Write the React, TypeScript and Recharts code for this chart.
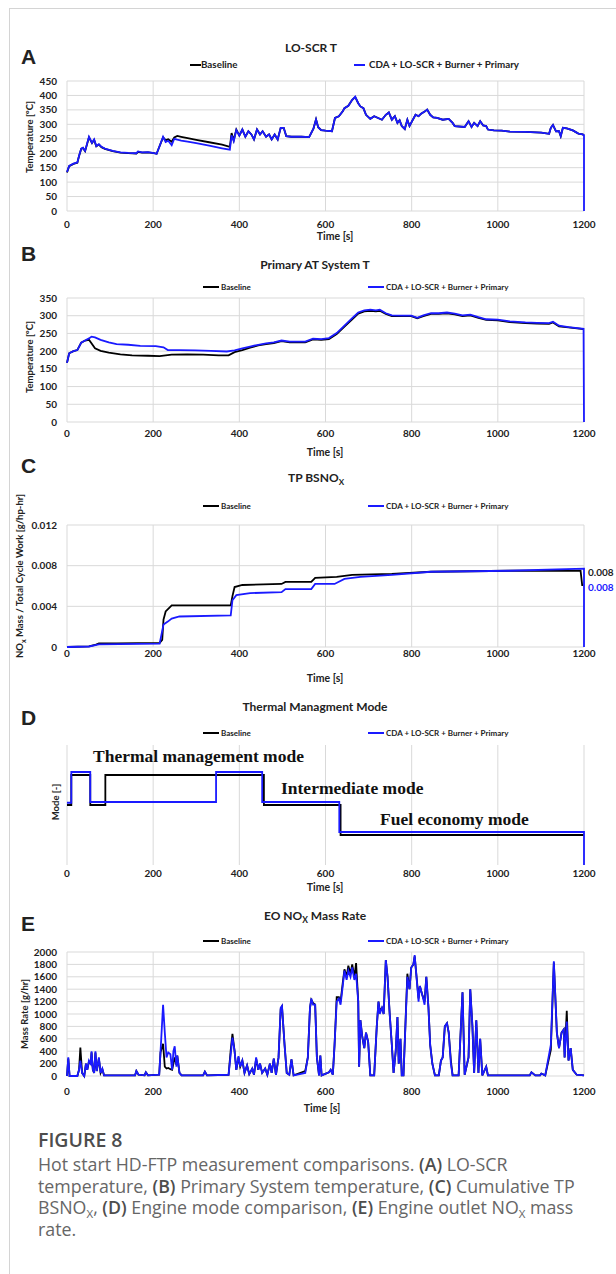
import { CartesianGrid, Line, LineChart, XAxis, YAxis } from 'recharts'
import type { ReactNode } from 'react'

type Pt = [number, number]

const seriesNames = ['Baseline', 'CDA + LO-SCR + Burner + Primary']
const timeTicks = [0, 200, 400, 600, 800, 1000, 1200]
const aTicks = [0, 50, 100, 150, 200, 250, 300, 350, 400, 450]
const bTicks = [0, 50, 100, 150, 200, 250, 300, 350]
const cTicks = [0, 0.004, 0.008, 0.012]
const dTicks = [0, 1, 2, 3, 4, 5, 6, 7, 8]
const eTicks = [0, 200, 400, 600, 800, 1000, 1200, 1400, 1600, 1800, 2000]

// (A) LO-SCR temperature [°C]
const aBaseline: Pt[] = [
	[0, 133], [5, 155], [15, 163], [24, 167], [28, 190], [33, 215], [37, 218], [42, 207], [51, 255], [58, 235],
	[63, 246], [68, 224], [74, 230], [80, 221], [88, 215], [106, 207], [124, 202], [142, 200], [161, 199], [165, 205],
	[174, 202], [188, 203], [202, 200], [208, 198], [215, 225], [223, 255], [229, 245], [235, 248], [243, 240], [249, 255],
	[256, 260], [265, 257], [280, 252], [300, 246], [330, 238], [360, 230], [378, 222], [382, 270], [387, 245], [393, 282],
	[400, 261], [407, 282], [414, 257], [421, 276], [428, 265], [434, 248], [441, 282], [448, 265], [454, 276], [462, 257],
	[469, 265], [475, 248], [482, 265], [489, 248], [496, 288], [503, 288], [509, 259], [521, 257], [544, 257], [562, 256],
	[572, 285], [578, 317], [583, 290], [590, 280], [600, 278], [615, 276], [622, 322], [631, 328], [640, 345], [644, 356],
	[653, 364], [662, 385], [669, 394], [676, 373], [681, 362], [688, 356], [694, 333], [704, 319], [713, 328], [722, 322],
	[731, 316], [740, 333], [747, 341], [754, 316], [761, 328], [767, 305], [772, 314], [777, 294], [784, 284], [790, 316],
	[795, 294], [801, 311], [809, 333], [816, 328], [822, 337], [831, 345], [836, 351], [843, 333], [850, 324], [859, 322],
	[872, 316], [886, 319], [895, 305], [900, 294], [923, 291], [932, 311], [939, 291], [945, 305], [953, 294], [959, 311],
	[966, 296], [973, 294], [977, 282], [991, 279], [1009, 278], [1028, 275], [1064, 274], [1101, 271], [1119, 267], [1123, 288],
	[1128, 298], [1135, 276], [1142, 276], [1146, 259], [1151, 288], [1160, 286], [1174, 279], [1187, 268], [1197, 265], [1200, 262],
]
const aCda: Pt[] = [
	[0, 135], [5, 156], [15, 164], [24, 168], [28, 191], [33, 216], [37, 219], [42, 208], [51, 257], [58, 236],
	[63, 248], [68, 225], [74, 231], [80, 222], [88, 216], [106, 208], [124, 203], [142, 201], [161, 200], [165, 206],
	[174, 203], [188, 204], [202, 200], [208, 198], [215, 225], [223, 257], [229, 239], [235, 243], [243, 228], [249, 250],
	[256, 247], [265, 244], [280, 240], [300, 235], [330, 226], [360, 217], [378, 212], [382, 262], [387, 242], [393, 280],
	[400, 261], [407, 282], [414, 257], [421, 276], [428, 265], [434, 248], [441, 282], [448, 265], [454, 276], [462, 257],
	[469, 265], [475, 248], [482, 265], [489, 248], [496, 288], [503, 288], [509, 259], [521, 257], [544, 257], [562, 256],
	[572, 285], [578, 317], [583, 290], [590, 280], [600, 278], [615, 276], [622, 322], [631, 328], [640, 345], [644, 356],
	[653, 364], [662, 385], [669, 396], [676, 373], [681, 362], [688, 356], [694, 333], [704, 319], [713, 328], [722, 322],
	[731, 316], [740, 333], [747, 341], [754, 316], [761, 328], [767, 305], [772, 314], [777, 294], [784, 284], [790, 316],
	[795, 294], [801, 311], [809, 333], [816, 328], [822, 337], [831, 345], [836, 351], [843, 333], [850, 324], [859, 322],
	[872, 316], [886, 319], [895, 305], [900, 294], [923, 291], [932, 311], [939, 291], [945, 305], [953, 294], [959, 311],
	[966, 296], [973, 294], [977, 282], [991, 279], [1009, 278], [1028, 275], [1064, 274], [1101, 271], [1119, 267], [1123, 288],
	[1128, 298], [1135, 276], [1142, 276], [1146, 259], [1151, 288], [1160, 286], [1174, 279], [1187, 268], [1197, 265], [1200, 262],
	[1200, 0],
]

// (B) Primary AT system temperature [°C]
const bBaseline: Pt[] = [
	[0, 167], [5, 194], [15, 200], [24, 203], [33, 224], [42, 230], [51, 232], [65, 208], [78, 201], [97, 196],
	[124, 191], [151, 188], [188, 187], [215, 186], [243, 190], [279, 191], [316, 190], [352, 188], [375, 188], [389, 197],
	[407, 203], [425, 210], [444, 216], [462, 220], [480, 223], [498, 228], [517, 225], [535, 225], [553, 225], [571, 233],
	[590, 232], [608, 234], [626, 248], [644, 269], [662, 290], [676, 306], [690, 312], [704, 314], [717, 312], [726, 314],
	[740, 305], [754, 299], [781, 299], [799, 299], [813, 293], [827, 299], [845, 305], [863, 305], [882, 307], [900, 304],
	[918, 299], [936, 301], [955, 294], [973, 288], [1000, 287], [1028, 282], [1064, 279], [1091, 278], [1119, 277], [1128, 281],
	[1142, 270], [1164, 267], [1199, 262], [1200, 262],
]
const bCda: Pt[] = [
	[0, 167], [5, 194], [15, 200], [24, 203], [33, 224], [42, 230], [51, 236], [57, 241], [65, 239], [78, 232],
	[97, 225], [115, 220], [142, 218], [170, 215], [206, 214], [224, 211], [234, 203], [261, 203], [298, 202], [334, 201],
	[371, 199], [389, 202], [407, 208], [425, 213], [444, 218], [462, 222], [480, 225], [498, 230], [517, 227], [535, 227],
	[553, 227], [571, 235], [590, 234], [608, 237], [626, 251], [644, 272], [662, 293], [676, 309], [690, 315], [704, 317],
	[717, 315], [726, 317], [740, 307], [754, 301], [781, 300], [799, 300], [813, 294], [827, 301], [845, 307], [863, 307],
	[882, 309], [900, 306], [918, 301], [936, 303], [955, 296], [973, 290], [1000, 289], [1028, 284], [1064, 281], [1091, 280],
	[1119, 279], [1128, 283], [1142, 272], [1164, 268], [1199, 263], [1200, 0],
]

// (C) cumulative TP BSNOx [g/hp-hr]
const cBaseline: Pt[] = [
	[0, 0], [51, 0.00007], [65, 0.0002], [74, 0.00036], [115, 0.00036], [215, 0.0004], [221, 0.0007], [224, 0.0027],
	[229, 0.0035], [243, 0.0041], [270, 0.0041], [380, 0.0041], [384, 0.005], [389, 0.0059], [407, 0.0061], [498, 0.0062],
	[507, 0.0064], [567, 0.0064], [576, 0.0068], [626, 0.0069], [644, 0.007], [662, 0.0071], [754, 0.0072], [845, 0.0074],
	[1028, 0.0075], [1192, 0.0075], [1196, 0.006],
]
const cCda: Pt[] = [
	[0, 0], [51, 0.00005], [74, 0.00026], [215, 0.00033], [224, 0.0022], [234, 0.0025], [243, 0.0028], [261, 0.003],
	[380, 0.0031], [384, 0.0046], [393, 0.0051], [425, 0.0053], [498, 0.0054], [507, 0.0057], [567, 0.0057], [576, 0.0062],
	[621, 0.0062], [644, 0.0067], [681, 0.0069], [754, 0.0071], [845, 0.0074], [1028, 0.0075], [1200, 0.0077], [1200, 0],
]
const cEndLabels = ['0.008', '0.008']

// (D) engine mode
const dBaseline: Pt[] = [[0, 4], [10, 6], [54, 4], [89, 6], [457, 4], [635, 2], [1200, 2]]
const dCda: Pt[] = [[0, 4.15], [10, 6.2], [54, 4.2], [346, 6.2], [453, 4.2], [632, 2.2], [1200, 2.2], [1200, 0]]
const dModeNames = ['Thermal management mode', 'Intermediate mode', 'Fuel economy mode']

// (E) engine-out NOx mass rate [g/hr]
const eBaseline: Pt[] = [
	[0, 0], [3, 280], [6, 0], [24, 0], [28, 100], [31, 460], [35, 50], [40, 0], [44, 200], [47, 100],
	[51, 230], [55, 200], [57, 380], [60, 100], [63, 50], [66, 380], [69, 80], [74, 280], [78, 50], [82, 110],
	[86, 10], [158, 10], [161, 80], [166, 20], [180, 10], [183, 60], [188, 10], [214, 20], [217, 380], [223, 520],
	[227, 150], [231, 120], [235, 130], [240, 110], [244, 100], [247, 200], [250, 300], [254, 180], [256, 330], [261, 50],
	[266, 10], [316, 10], [320, 70], [325, 10], [375, 20], [380, 420], [384, 680], [389, 400], [393, 100], [398, 300],
	[402, 150], [407, 250], [412, 50], [418, 170], [423, 30], [430, 120], [434, 20], [439, 280], [444, 100], [448, 200],
	[453, 50], [460, 120], [465, 20], [471, 200], [475, 50], [480, 280], [485, 20], [491, 300], [496, 1080], [499, 1120],
	[505, 500], [510, 50], [516, 20], [521, 270], [526, 10], [553, 80], [559, 300], [564, 1100], [567, 1230], [571, 1180],
	[576, 1150], [580, 300], [585, 10], [588, 330], [591, 10], [608, 60], [612, 100], [617, 20], [621, 500], [626, 1270],
	[631, 1270], [635, 1200], [640, 1500], [644, 1720], [649, 1600], [653, 1780], [658, 1650], [662, 1800], [667, 1600], [671, 1820],
	[676, 1200], [678, 150], [681, 900], [685, 650], [690, 450], [694, 700], [699, 550], [704, 10], [713, 10], [719, 800],
	[723, 1200], [726, 1050], [731, 1100], [735, 1000], [740, 1870], [744, 1600], [749, 1000], [754, 500], [758, 50], [763, 400],
	[767, 950], [770, 200], [774, 600], [777, 10], [781, 10], [790, 1650], [795, 1400], [799, 1750], [804, 1800], [807, 1930],
	[810, 1700], [816, 1250], [819, 1450], [825, 1300], [830, 1200], [834, 1600], [839, 1100], [843, 500], [848, 200], [854, 10],
	[863, 10], [868, 250], [872, 300], [877, 800], [882, 850], [886, 700], [891, 250], [895, 10], [909, 10], [918, 1350],
	[923, 20], [932, 300], [936, 1400], [941, 800], [945, 50], [950, 900], [955, 50], [959, 600], [964, 10], [973, 150],
	[977, 10], [1074, 10], [1078, 60], [1087, 10], [1098, 10], [1101, 40], [1110, 10], [1123, 420], [1130, 1830], [1137, 700],
	[1142, 450], [1148, 700], [1153, 750], [1155, 300], [1160, 1050], [1164, 250], [1169, 450], [1174, 100], [1183, 20], [1200, 10],
]
const eCda: Pt[] = [
	[0, 0], [3, 300], [6, 0], [24, 0], [28, 100], [31, 250], [35, 50], [40, 0], [44, 200], [47, 100],
	[51, 250], [55, 200], [57, 400], [60, 100], [63, 50], [66, 400], [69, 80], [74, 300], [78, 50], [82, 120],
	[86, 10], [158, 10], [161, 80], [166, 20], [180, 10], [183, 60], [188, 10], [214, 20], [217, 380], [223, 1150],
	[227, 700], [231, 300], [235, 380], [240, 350], [244, 100], [247, 400], [250, 480], [254, 150], [256, 330], [261, 50],
	[266, 10], [316, 10], [320, 70], [325, 10], [375, 20], [380, 350], [384, 620], [389, 400], [393, 100], [398, 320],
	[402, 150], [407, 250], [412, 50], [418, 170], [423, 30], [430, 120], [434, 20], [439, 300], [444, 100], [448, 200],
	[453, 50], [460, 120], [465, 20], [471, 200], [475, 50], [480, 280], [485, 20], [491, 300], [496, 1100], [499, 1130],
	[505, 500], [510, 50], [516, 20], [521, 270], [526, 10], [553, 50], [559, 300], [564, 1100], [567, 1250], [571, 1150],
	[576, 1150], [580, 300], [585, 10], [588, 330], [591, 10], [608, 60], [612, 100], [617, 20], [621, 500], [626, 1200],
	[631, 1250], [635, 1150], [640, 1450], [644, 1700], [649, 1550], [653, 1700], [658, 1600], [662, 1750], [667, 1550], [671, 1650],
	[676, 1200], [678, 150], [681, 900], [685, 650], [690, 450], [694, 700], [699, 550], [704, 10], [713, 10], [719, 800],
	[723, 1200], [726, 1000], [731, 1100], [735, 1000], [740, 1870], [744, 1600], [749, 1000], [754, 500], [758, 50], [763, 400],
	[767, 950], [770, 200], [774, 600], [777, 10], [781, 10], [790, 1600], [795, 1400], [799, 1750], [804, 1800], [807, 1950],
	[810, 1700], [816, 1200], [819, 1450], [825, 1300], [830, 1150], [834, 1600], [839, 1100], [843, 500], [848, 200], [854, 10],
	[863, 10], [868, 250], [872, 300], [877, 800], [882, 850], [886, 700], [891, 200], [895, 10], [909, 10], [918, 1350],
	[923, 20], [932, 300], [936, 1400], [941, 800], [945, 50], [950, 900], [955, 50], [959, 600], [964, 10], [973, 150],
	[977, 10], [1074, 10], [1078, 60], [1087, 10], [1098, 10], [1101, 40], [1110, 10], [1123, 500], [1130, 1850], [1137, 700],
	[1142, 450], [1148, 700], [1153, 750], [1155, 300], [1160, 880], [1164, 250], [1169, 450], [1174, 100], [1183, 20], [1200, 10],
]

const FONT = 'Lato, "Open Sans", sans-serif'
const SERIF = "'Liberation Serif', 'Times New Roman', serif"
const LETTER = "Arial, 'Liberation Sans', sans-serif"
const CAPTION = "'Open Sans', sans-serif"
const INK = '#222'
const BLUE = '#1a1aff'
const GRID = '#d9d9d9'

const rows = (a: Pt[]) => a.map(([t, v]) => ({ t, v }))

function Txt({
	x, y, size = 9.5, weight = 700, align = 'center', color = INK, family = FONT, rotate = false, children,
}: {
	x: number; y: number; size?: number; weight?: number; align?: 'left' | 'center' | 'right'
	color?: string; family?: string; rotate?: boolean; children: ReactNode
}) {
	const tx = align === 'center' ? '-50%' : align === 'right' ? '-100%' : '0'
	return (
		<div
			style={{
				position: 'absolute', left: x, top: y, transform: `translate(${tx}, -50%)${rotate ? ' rotate(-90deg)' : ''}`,
				fontSize: size, fontWeight: weight, color, fontFamily: family, whiteSpace: 'nowrap', lineHeight: 1,
			}}
		>
			{children}
		</div>
	)
}

function LegendRow({ y, big = false }: { y: number; big?: boolean }) {
	const c = big
		? { l1: 190, t1: 201, l2: 354, t2: 369, size: 9.8, len: 11 }
		: { l1: 203, t1: 221, l2: 368, t2: 386, size: 8, len: 16 }
	return (
		<>
			<div style={{ position: 'absolute', left: c.l1, top: y - 0.75, width: c.len, height: 1.5, background: '#000' }} />
			<Txt x={c.t1} y={y} size={c.size} align="left">{seriesNames[0]}</Txt>
			<div style={{ position: 'absolute', left: c.l2, top: y - 0.75, width: c.len, height: 1.5, background: BLUE }} />
			<Txt x={c.t2} y={y} size={c.size} align="left">{seriesNames[1]}</Txt>
		</>
	)
}

interface Series { data: Pt[]; color: string; step?: boolean }

function Panel({
	plotTop, plotBottom, domain, ticks, tickGap, series, fmt, hideY = false,
}: {
	plotTop: number; plotBottom: number; domain: [number, number]; ticks: number[]; tickGap: number
	series: Series[]; fmt?: (v: number) => string; hideY?: boolean
}) {
	const tickStyle = { fontSize: 10, fill: INK, fontFamily: FONT, fontWeight: 700 }
	return (
		<div style={{ position: 'absolute', left: 0, top: plotTop - 10 }}>
			<LineChart
				width={616}
				height={plotBottom - plotTop + 40}
				data={rows(series[0].data)}
				margin={{ top: 10, right: 32, bottom: 0, left: 0 }}
			>
				<CartesianGrid stroke={GRID} strokeWidth={1} syncWithTicks />
				<XAxis
					type="number"
					dataKey="t"
					domain={[0, 1200]}
					ticks={timeTicks}
					interval={0}
					axisLine={false}
					tickLine={false}
					tickSize={0}
					tickMargin={tickGap}
					height={30}
					tick={tickStyle}
				/>
				<YAxis
					type="number"
					domain={domain}
					ticks={ticks}
					interval={0}
					axisLine={false}
					tickLine={false}
					tickSize={0}
					tickMargin={10}
					width={67}
					tick={hideY ? false : tickStyle}
					tickFormatter={fmt}
				/>
				{series.map((s, i) => (
					<Line
						key={i}
						data={rows(s.data)}
						dataKey="v"
						type={s.step ? 'stepAfter' : 'linear'}
						stroke={s.color}
						strokeWidth={1.8}
						dot={false}
						isAnimationActive={false}
					/>
				))}
			</LineChart>
		</div>
	)
}

const bold = { fontWeight: 600, color: '#4d4d4d' }
const capSub = { fontSize: 11.5, position: 'relative' as const, top: 4 }

function CapLine({ y, children }: { y: number; children: ReactNode }) {
	return (
		<Txt x={38} y={y} size={17.8} weight={400} family={CAPTION} align="left" color="#666">
			{children}
		</Txt>
	)
}

export default function App() {
	return (
		<div style={{ position: 'absolute', left: 0, top: 0, width: 616, height: 1274, overflow: 'hidden', background: '#fff' }}>
			<div style={{ position: 'absolute', left: 9, top: 8, width: 700, height: 1300, borderLeft: '1px solid #d4d4d4', borderTop: '1px solid #d4d4d4' }} />

			{/* A */}
			<Txt x={21} y={56} size={21} family={LETTER} align="left">A</Txt>
			<Txt x={311} y={48} size={12}>LO-SCR T</Txt>
			<LegendRow y={65} big />
			<Txt x={30} y={137} size={9.5} rotate>Temperature [°C]</Txt>
			<Panel plotTop={81} plotBottom={211} domain={[0, 450]} ticks={aTicks} tickGap={10}
				series={[{ data: aBaseline, color: '#000' }, { data: aCda, color: BLUE }]} />
			<Txt x={335} y={236} size={10.5}>Time [s]</Txt>

			{/* B */}
			<Txt x={21} y={253} size={21} family={LETTER} align="left">B</Txt>
			<Txt x={315} y={265} size={12}>Primary AT System T</Txt>
			<LegendRow y={287} />
			<Txt x={30} y={357} size={9.5} rotate>Temperature [°C]</Txt>
			<Panel plotTop={298} plotBottom={422} domain={[0, 350]} ticks={bTicks} tickGap={8}
				series={[{ data: bBaseline, color: '#000' }, { data: bCda, color: BLUE }]} />
			<Txt x={325} y={452} size={10.5}>Time [s]</Txt>

			{/* C */}
			<Txt x={21} y={465} size={21} family={LETTER} align="left">C</Txt>
			<Txt x={316} y={479} size={12}>TP BSNO<sub style={{ fontSize: 8 }}>X</sub></Txt>
			<LegendRow y={506} />
			<Txt x={21} y={576} size={9.5} rotate>NO<sub style={{ fontSize: 7 }}>x</sub> Mass / Total Cycle Work [g/hp-hr]</Txt>
			<Panel plotTop={525} plotBottom={647} domain={[0, 0.012]} ticks={cTicks} tickGap={3}
				fmt={(v) => (v === 0 ? '0' : v.toFixed(3))}
				series={[{ data: cBaseline, color: '#000' }, { data: cCda, color: BLUE }]} />
			<Txt x={588} y={572} size={10} align="left">{cEndLabels[0]}</Txt>
			<Txt x={588} y={587} size={10} align="left" color={BLUE}>{cEndLabels[1]}</Txt>
			<Txt x={325} y={678} size={10.5}>Time [s]</Txt>

			{/* D */}
			<Txt x={21} y={717} size={21} family={LETTER} align="left">D</Txt>
			<Txt x={315} y={707} size={12}>Thermal Managment Mode</Txt>
			<LegendRow y={733} />
			<Txt x={56} y={802} size={9.5} rotate>Mode [-]</Txt>
			<Panel plotTop={745} plotBottom={865} domain={[0, 8]} ticks={dTicks} tickGap={5} hideY
				series={[{ data: dBaseline, color: '#000', step: true }, { data: dCda, color: BLUE, step: true }]} />
			<Txt x={93} y={757} size={17.5} family={SERIF} align="left" color="#111">{dModeNames[0]}</Txt>
			<Txt x={281} y={789} size={17.5} family={SERIF} align="left" color="#111">{dModeNames[1]}</Txt>
			<Txt x={380} y={820} size={17.5} family={SERIF} align="left" color="#111">{dModeNames[2]}</Txt>
			<Txt x={325} y={887} size={10.5}>Time [s]</Txt>

			{/* E */}
			<Txt x={21} y={923} size={21} family={LETTER} align="left">E</Txt>
			<Txt x={315} y={917} size={12}>EO NO<sub style={{ fontSize: 8.5 }}>X</sub> Mass Rate</Txt>
			<LegendRow y={941} />
			<Txt x={25} y={1014} size={9.5} rotate>Mass Rate [g/hr]</Txt>
			<Panel plotTop={952} plotBottom={1076} domain={[0, 2000]} ticks={eTicks} tickGap={12}
				series={[{ data: eBaseline, color: '#000' }, { data: eCda, color: BLUE }]} />
			<Txt x={322} y={1108} size={10.5}>Time [s]</Txt>

			{/* caption */}
			<Txt x={38} y={1140} size={19.5} weight={600} family={CAPTION} align="left" color="#4d4d4d">FIGURE 8</Txt>
			<CapLine y={1165}>
				Hot start HD-FTP measurement comparisons. <span style={bold}>(A)</span> LO-SCR
			</CapLine>
			<CapLine y={1186.5}>
				temperature, <span style={bold}>(B)</span> Primary System temperature, <span style={bold}>(C)</span> Cumulative TP
			</CapLine>
			<CapLine y={1208}>
				BSNO<span style={capSub}>X</span>, <span style={bold}>(D)</span> Engine mode comparison,{' '}
				<span style={bold}>(E)</span> Engine outlet NO<span style={capSub}>X</span> mass
			</CapLine>
			<CapLine y={1229.5}>rate.</CapLine>
		</div>
	)
}
